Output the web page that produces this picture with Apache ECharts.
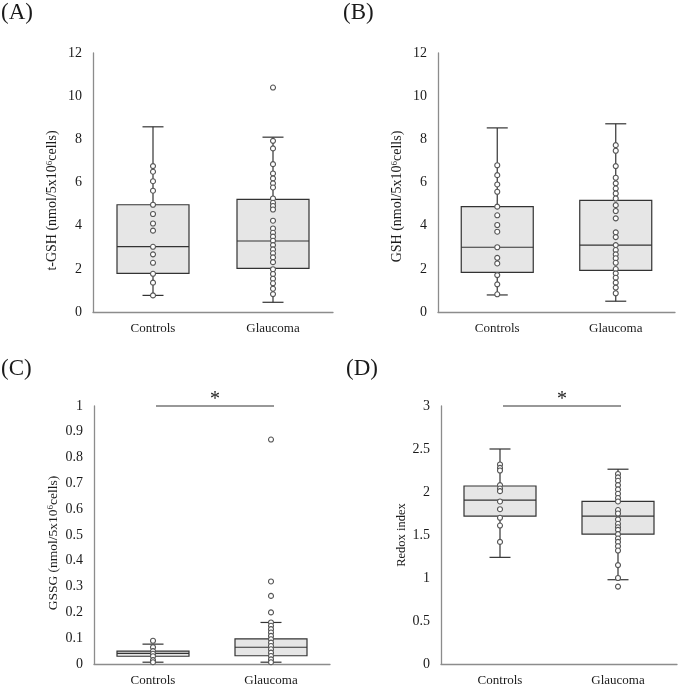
<!DOCTYPE html>
<html>
<head>
<meta charset="utf-8">
<script src="https://cdn.jsdelivr.net/npm/echarts@6/dist/echarts.min.js"></script>
<style>
  html, body { margin: 0; padding: 0; background: #fff; }
  #chart { width: 680px; height: 688px; }
</style>
</head>
<body>
<div id="chart"></div>
<script>
// categories
const groups = ['Controls', 'Glaucoma'];

// box stats: [min, Q1, median, Q3, max]
const aCtrlBox = [0.77, 1.79, 3.03, 4.97, 8.58];
const aGlauBox = [0.45, 2.02, 3.29, 5.22, 8.1];
const bCtrlBox = [0.79, 1.84, 3.0, 4.88, 8.53];
const bGlauBox = [0.5, 1.93, 3.1, 5.17, 8.72];
const cCtrlBox = [0.007, 0.03, 0.041, 0.05, 0.077];
const cGlauBox = [0.007, 0.032, 0.065, 0.097, 0.161];
const dCtrlBox = [1.24, 1.72, 1.905, 2.07, 2.5];
const dGlauBox = [0.98, 1.51, 1.72, 1.89, 2.265];

// individual points
const aCtrlPts = [6.76, 6.5, 6.06, 5.62, 4.97, 4.54, 4.1, 3.77, 3.02, 2.67, 2.28, 1.77, 1.36, 0.77];
const aGlauPts = [10.4, 7.93, 7.58, 6.85, 6.42, 6.19, 5.96, 5.77, 5.26, 5.06, 4.91, 4.75, 4.23, 3.87, 3.67,
  3.49, 3.3, 3.1, 2.9, 2.72, 2.53, 2.31, 1.98, 1.76, 1.54, 1.33, 1.08, 0.83];
const bCtrlPts = [6.8, 6.34, 5.91, 5.57, 4.88, 4.48, 4.03, 3.72, 3.0, 2.51, 2.25, 1.71, 1.28, 0.82];
const bGlauPts = [7.73, 7.47, 6.76, 6.22, 5.96, 5.72, 5.49, 5.26, 4.95, 4.68, 4.34, 3.69, 3.47, 3.1,
  2.87, 2.67, 2.49, 2.28, 1.99, 1.79, 1.59, 1.36, 1.13, 0.87];
const cCtrlPts = [0.09, 0.065, 0.05, 0.04, 0.03, 0.015, 0.007];
const cGlauPts = [0.87, 0.32, 0.264, 0.2, 0.161, 0.148, 0.135, 0.122, 0.109, 0.096, 0.083, 0.07,
  0.057, 0.044, 0.031, 0.018, 0.007];
const dCtrlPts = [2.32, 2.28, 2.25, 2.08, 2.04, 2.01, 1.89, 1.8, 1.7, 1.61, 1.42];
const dGlauPts = [2.21, 2.17, 2.13, 2.08, 2.03, 1.98, 1.93, 1.89, 1.79, 1.75, 1.68, 1.63, 1.59, 1.56,
  1.51, 1.46, 1.42, 1.37, 1.32, 1.15, 1.0, 0.9];

// y axis ranges
const yMax = [12, 12, 1, 3];
const yStep = [2, 2, 0.1, 0.5];
// significance bar level (C, D)
const sigLevel = [null, null, 1, 3];

const FONT = '"Liberation Serif", "DejaVu Serif", serif';
const TXT = '#1a1a1a';
const AXIS = '#8c8c8c';

const panels = [
  { label: '(A)', name: 't-GSH (nmol/5x10{sup|6}cells)', box: [aCtrlBox, aGlauBox], pts: [aCtrlPts, aGlauPts],
    nameSize: 14, namePad: [0, 36, 0, 0],
    grid: { left: 93, top: 53, width: 240, height: 259 }, title: { left: 1, top: 1 } },
  { label: '(B)', name: 'GSH (nmol/5x10{sup|6}cells)', box: [bCtrlBox, bGlauBox], pts: [bCtrlPts, bGlauPts],
    nameSize: 14, namePad: [0, 28, 0, 0],
    grid: { left: 438, top: 53, width: 237, height: 259 }, title: { left: 343, top: 1 } },
  { label: '(C)', name: 'GSSG (nmol/5x10{sup|6}cells)', box: [cCtrlBox, cGlauBox], pts: [cCtrlPts, cGlauPts],
    nameSize: 13.5, namePad: [0, 16, 0, 0],
    grid: { left: 94, top: 406, width: 236, height: 258 }, title: { left: 1, top: 357 } },
  { label: '(D)', name: 'Redox index', box: [dCtrlBox, dGlauBox], pts: [dCtrlPts, dGlauPts],
    nameSize: 12.5, namePad: 0,
    grid: { left: 441, top: 406, width: 236, height: 258 }, title: { left: 346, top: 357 } }
];

// box + whiskers drawn on the axis scale
function renderBox(params, api) {
  const x = api.value(0);
  const lo = api.coord([x, api.value(1)]);
  const q1 = api.coord([x, api.value(2)]);
  const md = api.coord([x, api.value(3)]);
  const q3 = api.coord([x, api.value(4)]);
  const hi = api.coord([x, api.value(5)]);
  const hw = 36, cw = 10.5;
  const line = { stroke: '#333', lineWidth: 1.2 };
  return {
    type: 'group',
    children: [
      { type: 'line', shape: { x1: lo[0], y1: lo[1], x2: hi[0], y2: hi[1] }, style: line },
      { type: 'line', shape: { x1: lo[0] - cw, y1: lo[1], x2: lo[0] + cw, y2: lo[1] }, style: line },
      { type: 'line', shape: { x1: hi[0] - cw, y1: hi[1], x2: hi[0] + cw, y2: hi[1] }, style: line },
      { type: 'rect', shape: { x: q3[0] - hw, y: q3[1], width: hw * 2, height: q1[1] - q3[1] },
        style: { fill: '#e6e6e6', stroke: '#333', lineWidth: 1.2 } },
      { type: 'line', shape: { x1: md[0] - hw, y1: md[1], x2: md[0] + hw, y2: md[1] }, style: line }
    ]
  };
}

// significance bar with asterisk
function renderSig(params, api) {
  const a = api.coord([0, api.value(2)]);
  const b = api.coord([1, api.value(2)]);
  return {
    type: 'group',
    children: [
      { type: 'line', shape: { x1: a[0] + 3, y1: a[1], x2: b[0] + 3, y2: b[1] },
        style: { stroke: '#333', lineWidth: 1.2 } },
      { type: 'text', x: (a[0] + b[0]) / 2 + 3, y: a[1] + 4,
        style: { text: '*', fill: TXT, font: '20px ' + FONT, align: 'center', verticalAlign: 'bottom' } }
    ]
  };
}

const option = {
  animation: false,
  backgroundColor: '#fff',
  title: [],
  grid: [],
  xAxis: [],
  yAxis: [],
  series: []
};

panels.forEach(function (p, i) {
  option.title.push(Object.assign({
    text: p.label,
    textStyle: { fontFamily: FONT, fontSize: 23, fontWeight: 'normal', color: TXT },
    padding: 0
  }, p.title));
  option.grid.push(p.grid);
  option.xAxis.push({
    type: 'category',
    gridIndex: i,
    data: groups,
    axisLine: { lineStyle: { color: AXIS, width: 1.3 } },
    axisTick: { show: false },
    axisLabel: { fontFamily: FONT, fontSize: 13, color: TXT, margin: 10 }
  });
  option.yAxis.push({
    type: 'value',
    gridIndex: i,
    min: 0,
    max: yMax[i],
    interval: yStep[i],
    name: p.name,
    nameLocation: 'middle',
    nameGap: 33,
    nameTextStyle: {
      fontFamily: FONT, fontSize: p.nameSize, color: TXT,
      padding: p.namePad,
      rich: { sup: { fontFamily: FONT, fontSize: 9, color: TXT, verticalAlign: 'top', padding: [0, 0, 6, 0] } }
    },
    axisLine: { show: true, lineStyle: { color: AXIS, width: 1.3 } },
    axisTick: { show: false },
    splitLine: { show: false },
    axisLabel: { fontFamily: FONT, fontSize: 14, color: TXT, margin: 11 }
  });
  option.series.push({
    type: 'custom',
    xAxisIndex: i,
    yAxisIndex: i,
    renderItem: renderBox,
    encode: { x: 0, y: [1, 2, 3, 4, 5] },
    data: p.box.map(function (b, k) { return [k].concat(b); }),
    z: 2
  });
  p.pts.forEach(function (vals, k) {
    option.series.push({
      type: 'scatter',
      xAxisIndex: i,
      yAxisIndex: i,
      symbol: 'circle',
      symbolSize: 5,
      itemStyle: { color: '#fff', borderColor: '#555', borderWidth: 1.1, opacity: 1 },
      data: vals.map(function (v) { return [k, v]; }),
      z: 3
    });
  });
  if (sigLevel[i] !== null) {
    option.series.push({
      type: 'custom',
      xAxisIndex: i,
      yAxisIndex: i,
      renderItem: renderSig,
      clip: false,
      encode: { x: [0, 1], y: 2 },
      data: [[0, 1, sigLevel[i]]],
      z: 4
    });
  }
});

const chart = echarts.init(document.getElementById('chart'), null, { renderer: 'canvas' });
chart.setOption(option);
</script>
</body>
</html>
